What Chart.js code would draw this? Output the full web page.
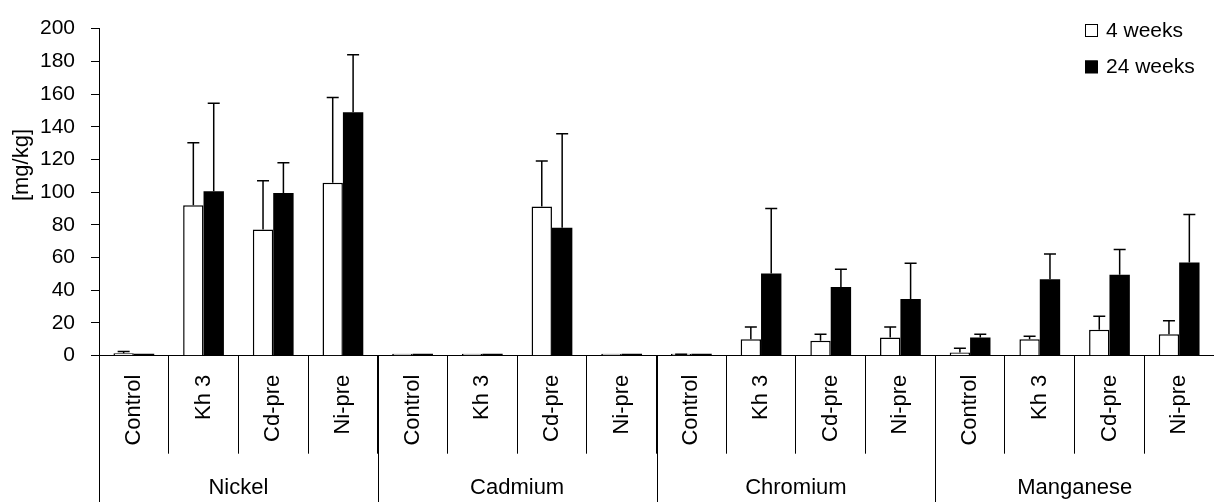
<!DOCTYPE html>
<html>
<head>
<meta charset="utf-8">
<script src="https://cdn.jsdelivr.net/npm/chart.js@4.4.1/dist/chart.umd.min.js"></script>
<style>
  html, body { margin: 0; padding: 0; background: #fff; }
  #wrap { width: 1214px; height: 502px; position: relative; }
</style>
</head>
<body>
<div id="wrap"><canvas id="c" width="1214" height="502"></canvas></div>
<script>
// ---- data ----
const groups = ["Nickel", "Cadmium", "Chromium", "Manganese"];
const treatments = ["Control", "Kh 3", "Cd-pre", "Ni-pre"];
const seriesNames = ["4 weeks", "24 weeks"];

const weeks4 = [1.5, 92.0, 77.1, 105.7,   0, 0, 91.2, 0,   0.4, 10.1, 9.2, 11.1,   2.0, 10.1, 15.9, 13.1];
const weeks4Err = [1.0, 38.2, 29.8, 52.2,  0, 0, 27.8, 0,   0.5, 7.4, 3.9, 6.4,    2.6, 1.8, 8.2, 8.2];
const weeks24 = [0, 100.5, 99.5, 148.8,   0, 0, 78.3, 0,   0, 50.3, 42.0, 34.6,   11.1, 46.7, 49.5, 57.0];
const weeks24Err = [0, 53.9, 18.5, 35.2,   0, 0, 57.4, 0,   0, 39.7, 10.9, 22.0,   2.0, 15.5, 15.5, 29.4];

const yTicks = [0, 20, 40, 60, 80, 100, 120, 140, 160, 180, 200];
const yTitle = "[mg/kg]";

const categories = [];
groups.forEach(() => treatments.forEach(t => categories.push(t)));

const FONT = '"Liberation Sans", Arial, sans-serif';

// ---- plugins ----
const errorBars = {
  id: 'errorBars',
  afterDatasetsDraw(chart) {
    const ctx = chart.ctx;
    const y = chart.scales.y;
    ctx.save();
    ctx.strokeStyle = '#000';
    ctx.lineWidth = 1.5;
    chart.data.datasets.forEach((ds, i) => {
      const meta = chart.getDatasetMeta(i);
      meta.data.forEach((bar, j) => {
        const e = ds.errors[j];
        if (!e) return;
        const top = y.getPixelForValue(ds.data[j] + e);
        const base = y.getPixelForValue(ds.data[j]);
        ctx.beginPath();
        ctx.moveTo(bar.x, base);
        ctx.lineTo(bar.x, top);
        ctx.moveTo(bar.x - 6, top);
        ctx.lineTo(bar.x + 6, top);
        ctx.stroke();
      });
    });
    ctx.restore();
  }
};

const groupAxis = {
  id: 'groupAxis',
  afterDraw(chart) {
    const ctx = chart.ctx;
    const x = chart.scales.x;
    const area = chart.chartArea;
    const half = (x.getPixelForValue(1) - x.getPixelForValue(0)) / 2;
    const per = treatments.length;
    ctx.save();
    ctx.strokeStyle = '#000';
    ctx.lineWidth = 1;
    for (let g = 0; g <= groups.length; g++) {
      const px = Math.round(x.getPixelForValue(g * per) - half) + 0.5;
      ctx.beginPath();
      ctx.moveTo(px, area.bottom);
      ctx.lineTo(px, chart.height);
      ctx.stroke();
    }
    ctx.fillStyle = '#000';
    ctx.font = '22px ' + FONT;
    ctx.textAlign = 'center';
    ctx.textBaseline = 'alphabetic';
    groups.forEach((name, g) => {
      const l = x.getPixelForValue(g * per) - half;
      const r = x.getPixelForValue(g * per + per - 1) + half;
      ctx.fillText(name, (l + r) / 2, 494);
    });
    // y-axis title
    ctx.save();
    ctx.translate(22, 165);
    ctx.rotate(-Math.PI / 2);
    ctx.font = '22px ' + FONT;
    ctx.textAlign = 'center';
    ctx.textBaseline = 'middle';
    ctx.fillText(yTitle, 0, 0);
    ctx.restore();
    // legend
    ctx.font = '21px ' + FONT;
    ctx.textAlign = 'left';
    ctx.textBaseline = 'alphabetic';
    chart.data.datasets.forEach((ds, i) => {
      const by = 24 + i * 36.5;
      ctx.fillStyle = ds.backgroundColor;
      ctx.fillRect(1085, by, 12.5, 12.5);
      ctx.strokeStyle = '#000';
      ctx.lineWidth = 1;
      ctx.strokeRect(1085.5, by + 0.5, 12, 12);
      ctx.fillStyle = '#000';
      ctx.fillText(ds.label, 1106, by + 12.8);
    });
    ctx.restore();
  }
};

new Chart(document.getElementById('c'), {
  type: 'bar',
  data: {
    labels: categories,
    datasets: [
      { label: seriesNames[0], data: weeks4, errors: weeks4Err,
        backgroundColor: '#ffffff', borderColor: '#000000', borderWidth: 1.5,
        minBarLength: 2, categoryPercentage: 0.585, barPercentage: 1.0 },
      { label: seriesNames[1], data: weeks24, errors: weeks24Err,
        backgroundColor: '#000000', borderColor: '#000000', borderWidth: 0,
        minBarLength: 2, categoryPercentage: 0.585, barPercentage: 1.0 }
    ]
  },
  options: {
    responsive: false,
    animation: false,
    devicePixelRatio: 1,
    layout: { padding: { left: 0, top: 20, right: -7, bottom: 0 } },
    plugins: { legend: { display: false }, tooltip: { enabled: false } },
    scales: {
      x: {
        type: 'category',
        offset: true,
        grid: { offset: true, drawOnChartArea: false, drawTicks: true, tickLength: 98, color: '#000', lineWidth: 1 },
        border: { display: true, color: '#000', width: 1 },
        ticks: { autoSkip: false, maxRotation: 90, minRotation: 90, padding: -79, color: '#000',
                 font: { family: FONT, size: 22 } },
        afterFit(s) { s.height = 146.3; }
      },
      y: {
        min: 0, max: 200,
        afterBuildTicks(s) { s.ticks = yTicks.map(v => ({ value: v })); },
        grid: { drawOnChartArea: false, drawTicks: true, tickLength: 8, color: '#000', lineWidth: 1 },
        border: { display: true, color: '#000', width: 1 },
        ticks: { padding: 16, color: '#000', font: { family: FONT, size: 21 } },
        afterFit(s) { s.width = 99; }
      }
    }
  },
  plugins: [errorBars, groupAxis]
});
</script>
</body>
</html>
